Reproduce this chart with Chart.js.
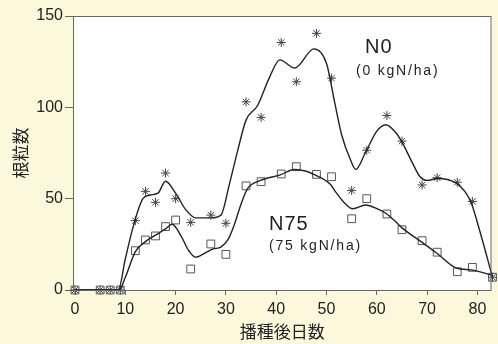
<!DOCTYPE html>
<html><head><meta charset="utf-8">
<script src="https://cdn.jsdelivr.net/npm/chart.js@4"></script>
<style>html,body{margin:0;padding:0;background:#fbf8dc;}#wrap{width:498px;height:344px;}</style>
</head><body><div id="wrap"><canvas id="c" width="498" height="344"></canvas></div>
<script>
// Sampling days (after sowing)
const days = [0,5,7,9,12,14,16,18,20,23,27,30,34,37,41,44,48,51,55,58,62,65,69,72,76,79,83];
// Observed nodule counts
const n0Values  = [0,0,0,0,38,54,48,64,50,37,41,36.5,103,94.5,135.5,114,140.5,116,54.5,76.5,95.5,81.5,57.5,61.5,59,48.5,7];
const n75Values = [0,0,0,0,21.5,27.4,29.6,34.7,38.3,11.5,25.2,19.5,57,59.3,63.5,67.5,63.3,62,39,50,41.6,33,27,20.7,10,12.4,7];
// Smoothed fit curves: [day, value]
const n0FitDays = [0,8.6,10,11.5,13.5,15,16.5,18,20,22,24,27,29,30.7,32.4,34,36.3,38.6,40.7,43.7,47.5,50,51.6,53,54.8,55.8,57.7,60,61.8,63.5,65,67,68.6,70,72,74,75.8,77.5,78.8,80.5,83];
const n0FitVals = [0,0,17,34,50,52,53,59.5,53,44,39.5,39.5,41,58,77,93,101,116,126,121.5,132,124,103,85,71,66,75,87,90.5,87,81,70,62,60,61,60.5,58.5,54,47.5,32,7];
const n75FitDays = [0,8.8,10,12,14,16,18,19.3,21.2,22.5,24,26,27.5,29,30.5,31.7,33,34.3,36.9,40.8,43.6,46,47.7,50.7,52,53.3,55.2,57.8,60,61.8,63.5,65,68.8,72,75.8,78.8,83];
const n75FitVals = [0,0,7,21,26.5,30,33.5,36,29,22,18,20.5,22.5,23.5,28,36,47,55.5,60,63,66,65,63,58,53,48.5,44.5,46.5,44.5,42,38,34,26.5,20,12,11,8];
const xTicks = [0,10,20,30,40,50,60,70,80];
const yTicks = [0,50,100,150];

const zip = (a,b) => a.map((x,i)=>({x:x,y:b[i]}));
const FONT = "'Liberation Sans', Arial, sans-serif";
const CJK = "'Noto Sans CJK JP', sans-serif";

const bgPlugin = {
  id:'bg',
  beforeDraw(chart){
    const {ctx, chartArea:a} = chart;
    ctx.save();
    ctx.fillStyle = '#fbf8dc';
    ctx.fillRect(0,0,chart.width,chart.height);
    ctx.fillStyle = '#ffffff';
    ctx.fillRect(a.left,a.top,a.right-a.left,a.bottom-a.top);
    ctx.restore();
  },
  afterDatasetsDraw(chart){
    const {ctx, chartArea:a} = chart;
    ctx.save();
    ctx.strokeStyle = '#666';
    ctx.lineWidth = 1;
    ctx.strokeRect(a.left+0.5,a.top+0.5,a.right-a.left-1,a.bottom-a.top);
    ctx.fillStyle = '#1e1e1e';
    ctx.textBaseline = 'alphabetic';
    ctx.textAlign = 'left';
    ctx.font = '20px ' + FONT;
    ctx.letterSpacing = '1px';
    ctx.fillText('N0', 365, 53);
    ctx.fillText('N75', 269, 230);
    ctx.font = '14px ' + FONT;
    ctx.letterSpacing = '1.8px';
    ctx.fillText('(0 kgN/ha)', 356, 75);
    ctx.fillText('(75 kgN/ha)', 269, 250);
    ctx.restore();
  }
};

new Chart(document.getElementById('c'), {
  type:'scatter',
  data:{
    datasets:[
      {label:'N0 fit', type:'line', data:zip(n0FitDays,n0FitVals), borderColor:'#222', borderWidth:1.4, pointRadius:0, cubicInterpolationMode:'monotone', fill:false},
      {label:'N75 fit', type:'line', data:zip(n75FitDays,n75FitVals), borderColor:'#222', borderWidth:1.4, pointRadius:0, cubicInterpolationMode:'monotone', fill:false},
      {label:'N0', data:zip(days,n0Values), pointStyle:'star', pointRadius:4.5, borderColor:'#444', borderWidth:1, backgroundColor:'#444'},
      {label:'N75', data:zip(days,n75Values), pointStyle:'rect', pointRadius:5.5, borderColor:'#555', borderWidth:1, backgroundColor:'rgba(0,0,0,0)'}
    ]
  },
  options:{
    responsive:false, animation:false,
    clip:false,
    layout:{padding:{top:16,right:1,left:0,bottom:0}},
    plugins:{legend:{display:false}, tooltip:{enabled:false}},
    scales:{
      x:{type:'linear', min:-0.4, max:82.8,
        afterBuildTicks(s){ s.ticks = xTicks.map(v=>({value:v})); },
        afterFit(s){ s.height = 54; },
        border:{display:false},
        grid:{drawOnChartArea:false, color:'#666', tickLength:5, tickWidth:1},
        ticks:{color:'#222', font:{family:FONT, size:16}, padding:5, maxRotation:0},
        title:{display:true, text:'播種後日数', color:'#222', font:{family:CJK, size:17}, padding:{top:0,bottom:2}}
      },
      y:{type:'linear', min:0, max:150,
        afterBuildTicks(s){ s.ticks = yTicks.map(v=>({value:v})); },
        afterFit(s){ s.width = 73; },
        border:{display:false},
        grid:{drawOnChartArea:false, color:'#666', tickLength:8, tickWidth:1},
        ticks:{color:'#222', font:{family:FONT, size:16}, padding:2},
        title:{display:true, text:'根粒数', color:'#222', font:{family:CJK, size:17}, padding:{top:10,bottom:4}}
      }
    }
  },
  plugins:[bgPlugin]
});
</script></body></html>
